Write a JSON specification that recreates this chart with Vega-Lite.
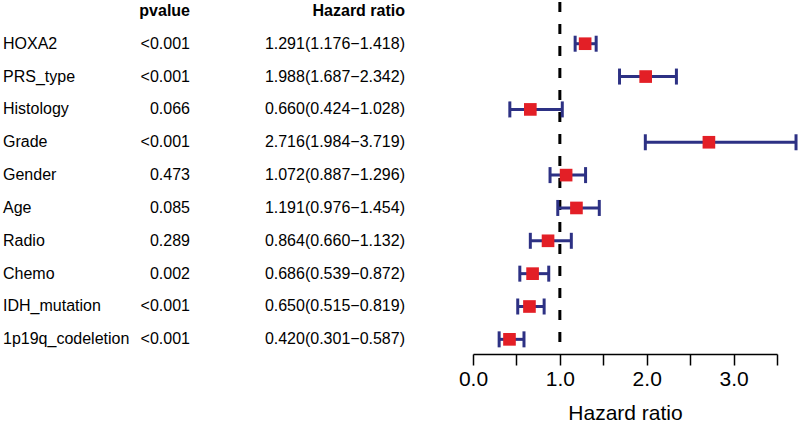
{
  "$schema": "https://vega.github.io/schema/vega-lite/v6.json",
  "padding": {"left": 3, "top": 0, "right": 0, "bottom": 0},
  "background": "white",
  "config": {"view": {"stroke": null}, "font": "Liberation Sans"},
  "data": {"values": [
    {"var": "HOXA2", "p": "<0.001", "hr": 1.291, "lo": 1.176, "hi": 1.418},
    {"var": "PRS_type", "p": "<0.001", "hr": 1.988, "lo": 1.687, "hi": 2.342},
    {"var": "Histology", "p": "0.066", "hr": 0.660, "lo": 0.424, "hi": 1.028},
    {"var": "Grade", "p": "<0.001", "hr": 2.716, "lo": 1.984, "hi": 3.719},
    {"var": "Gender", "p": "0.473", "hr": 1.072, "lo": 0.887, "hi": 1.296},
    {"var": "Age", "p": "0.085", "hr": 1.191, "lo": 0.976, "hi": 1.454},
    {"var": "Radio", "p": "0.289", "hr": 0.864, "lo": 0.660, "hi": 1.132},
    {"var": "Chemo", "p": "0.002", "hr": 0.686, "lo": 0.539, "hi": 0.872},
    {"var": "IDH_mutation", "p": "<0.001", "hr": 0.650, "lo": 0.515, "hi": 0.819},
    {"var": "1p19q_codeletion", "p": "<0.001", "hr": 0.420, "lo": 0.301, "hi": 0.587}
  ]},
  "spacing": 68,
  "bounds": "flush",
  "resolve": {"scale": {"x": "independent", "y": "independent"}},
  "hconcat": [
    {
      "width": 187, "height": 352,
      "layer": [
        {
          "mark": {"type": "text", "align": "left", "baseline": "middle", "fontSize": 16, "color": "black"},
          "encoding": {
            "x": {"datum": 0, "type": "quantitative", "scale": {"domain": [0, 1], "nice": false}, "axis": null},
            "y": {"field": "var", "type": "nominal", "axis": null, "scale": {"type": "point", "domain": ["header", "HOXA2", "PRS_type", "Histology", "Grade", "Gender", "Age", "Radio", "Chemo", "IDH_mutation", "1p19q_codeletion"], "padding": 0.358, "align": 0.377}},
            "text": {"field": "var"}
          }
        },
        {
          "mark": {"type": "text", "align": "right", "baseline": "middle", "fontSize": 16, "color": "black"},
          "encoding": {
            "x": {"datum": 1, "type": "quantitative"},
            "y": {"field": "var", "type": "nominal"},
            "text": {"field": "p"}
          }
        },
        {
          "data": {"values": [{"h": "pvalue"}]},
          "mark": {"type": "text", "align": "right", "baseline": "middle", "fontSize": 16, "fontWeight": "bold", "color": "black"},
          "encoding": {
            "x": {"datum": 1, "type": "quantitative"},
            "y": {"datum": "header", "type": "nominal"},
            "text": {"field": "h"}
          }
        }
      ]
    },
    {
      "width": 147, "height": 352,
      "layer": [
        {
          "transform": [{"calculate": "format(datum.hr,'.3f') + '(' + format(datum.lo,'.3f') + '−' + format(datum.hi,'.3f') + ')'", "as": "label"}],
          "mark": {"type": "text", "align": "right", "baseline": "middle", "fontSize": 16, "color": "black"},
          "encoding": {
            "x": {"datum": 1, "type": "quantitative", "scale": {"domain": [0, 1], "nice": false}, "axis": null},
            "y": {"field": "var", "type": "nominal", "axis": null, "scale": {"type": "point", "domain": ["header", "HOXA2", "PRS_type", "Histology", "Grade", "Gender", "Age", "Radio", "Chemo", "IDH_mutation", "1p19q_codeletion"], "padding": 0.358, "align": 0.377}},
            "text": {"field": "label"}
          }
        },
        {
          "data": {"values": [{"h": "Hazard ratio"}]},
          "mark": {"type": "text", "align": "right", "baseline": "middle", "fontSize": 16, "fontWeight": "bold", "color": "black"},
          "encoding": {
            "x": {"datum": 1, "type": "quantitative"},
            "y": {"datum": "header", "type": "nominal"},
            "text": {"field": "h"}
          }
        }
      ]
    },
    {
      "width": 304, "height": 352,
      "layer": [
        {
          "data": {"values": [{"ref": 1}]},
          "mark": {"type": "rule", "color": "black", "strokeWidth": 3, "strokeDash": [10, 12]},
          "encoding": {
            "x": {"field": "ref", "type": "quantitative", "scale": {"domain": [0, 3.5], "nice": false, "zero": false},
              "axis": {"title": "Hazard ratio", "values": [0, 0.5, 1, 1.5, 2, 2.5, 3, 3.5],
                "labelExpr": "datum.value % 1 === 0 ? format(datum.value, '.1f') : ''",
                "labelOverlap": false, "labelFlush": false, "grid": false,
                "tickSize": 11, "tickWidth": 1.5, "tickColor": "black",
                "domainColor": "black", "domainWidth": 1.5,
                "labelFontSize": 21, "labelColor": "black", "labelPadding": 3, "labelFont": "Liberation Sans",
                "titleFontSize": 21, "titleFontWeight": "normal", "titleColor": "black", "titlePadding": 13, "titleFont": "Liberation Sans"}}
          }
        },
        {
          "mark": {"type": "rule", "color": "#2D3184", "strokeWidth": 3, "opacity": 1},
          "encoding": {
            "x": {"field": "lo", "type": "quantitative"},
            "x2": {"field": "hi"},
            "y": {"field": "var", "type": "nominal", "axis": null, "scale": {"type": "point", "domain": ["header", "HOXA2", "PRS_type", "Histology", "Grade", "Gender", "Age", "Radio", "Chemo", "IDH_mutation", "1p19q_codeletion"], "padding": 0.358, "align": 0.377}}
          }
        },
        {
          "mark": {"type": "tick", "color": "#2D3184", "thickness": 3, "size": 16, "orient": "vertical", "opacity": 1},
          "encoding": {
            "x": {"field": "lo", "type": "quantitative"},
            "y": {"field": "var", "type": "nominal"}
          }
        },
        {
          "mark": {"type": "tick", "color": "#2D3184", "thickness": 3, "size": 16, "orient": "vertical", "opacity": 1},
          "encoding": {
            "x": {"field": "hi", "type": "quantitative"},
            "y": {"field": "var", "type": "nominal"}
          }
        },
        {
          "mark": {"type": "square", "color": "#E31F26", "filled": true, "opacity": 1, "size": 160},
          "encoding": {
            "x": {"field": "hr", "type": "quantitative"},
            "y": {"field": "var", "type": "nominal"}
          }
        }
      ]
    }
  ]
}
